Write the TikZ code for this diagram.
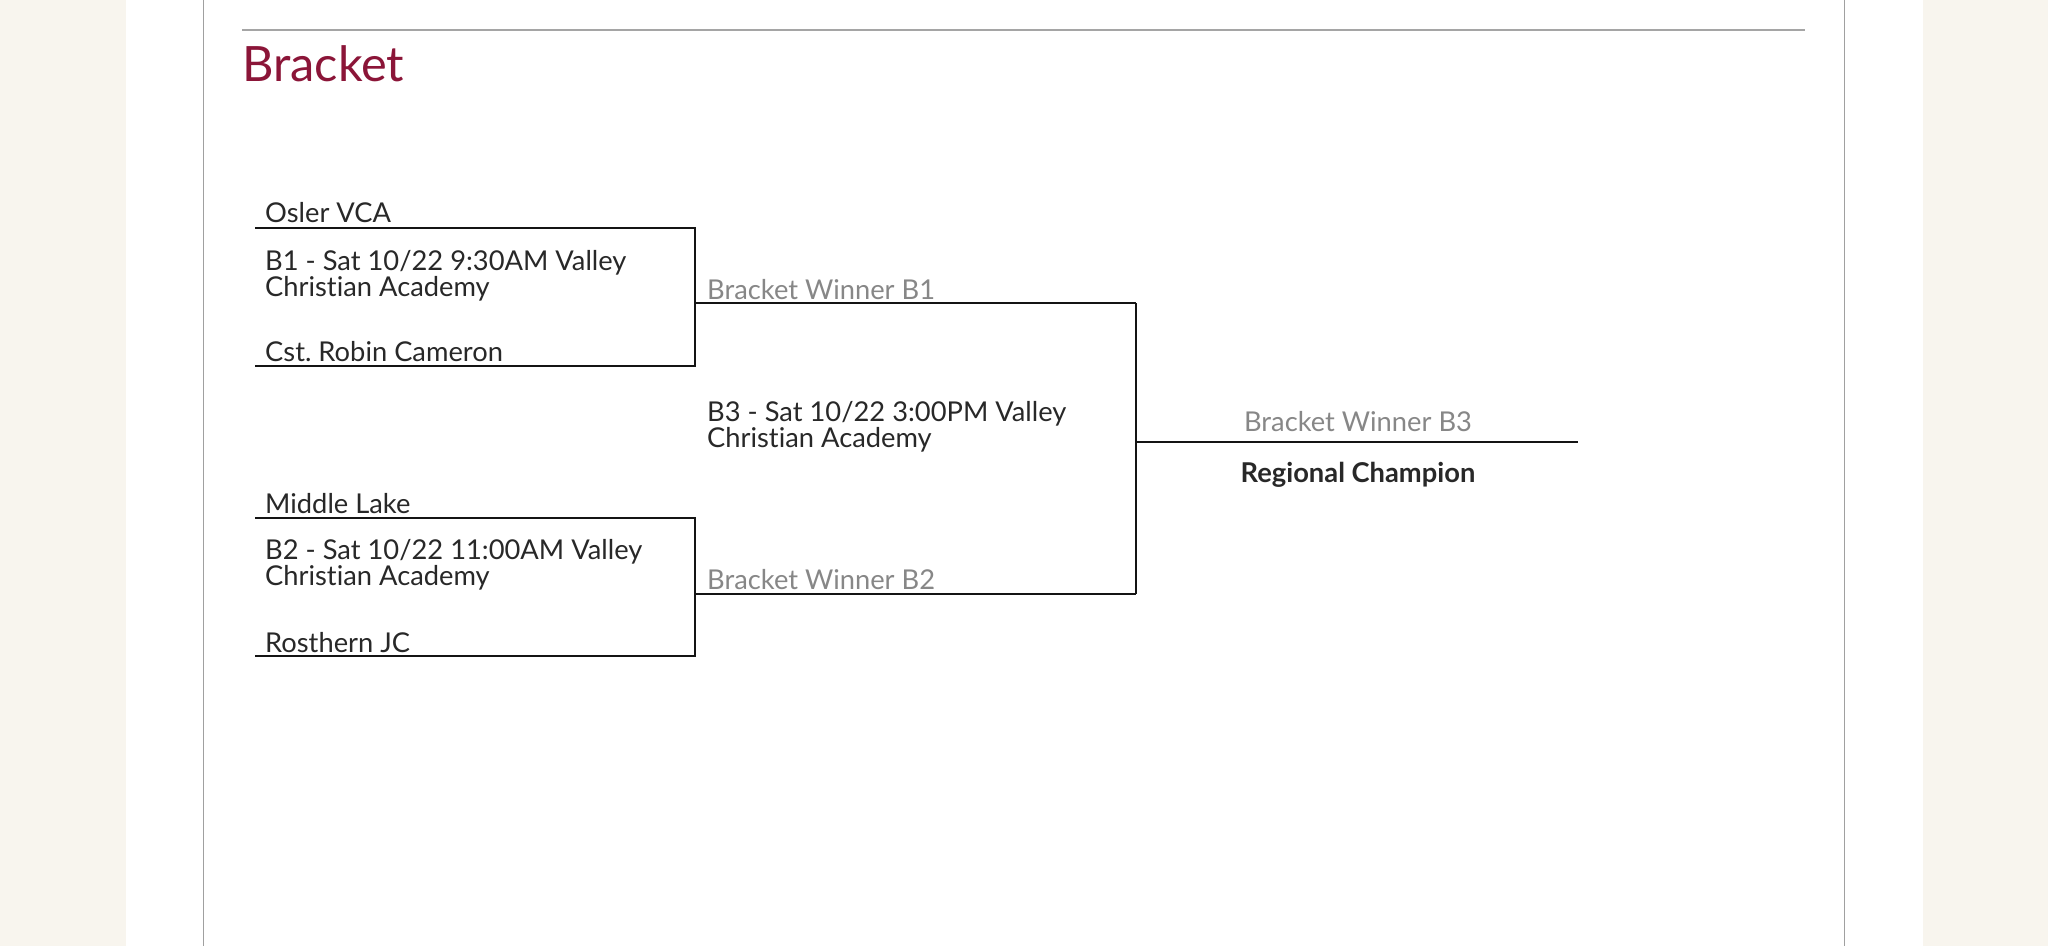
\documentclass[tikz,border=0pt]{standalone}
\usepackage{fontspec}
\setmainfont{Lato}[Ligatures=NoCommon]
\frenchspacing
\definecolor{cream}{RGB}{248,245,238}
\definecolor{pageborder}{RGB}{160,160,160}
\definecolor{rulegray}{RGB}{165,165,165}
\definecolor{maroon}{RGB}{139,21,56}
\definecolor{ink}{RGB}{40,40,40}
\definecolor{soft}{RGB}{135,135,135}
\tikzset{
  team/.style={anchor=base west, inner sep=0pt, text=ink, font=\fontsize{27.3}{27.3}\selectfont},
  game/.style={anchor=base west, inner sep=0pt, text=ink, align=left, font=\fontsize{27.3}{22.7}\selectfont},
  winner/.style={anchor=base west, inner sep=0pt, text=soft, font=\fontsize{27.3}{27.3}\selectfont},
  champ/.style={anchor=base, inner sep=0pt, text=ink, font=\fontsize{27.3}{27.3}\selectfont\bfseries},
  bline/.style={line width=2pt, draw=black!92},
}
\begin{document}
\begin{tikzpicture}[x=1pt,y=-1pt]
\path[use as bounding box, fill=cream] (0,0) rectangle (2048,946);
\fill[white] (126,0) rectangle (1923,946);
\draw[pageborder, line width=1.6pt] (203.5,0) -- (203.5,946);
\draw[pageborder, line width=1.6pt] (1844.5,0) -- (1844.5,946);
\draw[rulegray, line width=2.4pt] (242,30) -- (1805,30);
\node[anchor=base west, inner sep=0pt, text=maroon, font=\fontsize{48.7}{48.7}\selectfont] (title) at (242,81.7) {Bracket};

% coordinates of the bracket
\coordinate (a1) at (255,227.5);
\coordinate (a2) at (695,227.5);
\coordinate (a3) at (695,366);
\coordinate (a4) at (255,366);
\coordinate (w1s) at (695,303);
\coordinate (w1e) at (1136,303);
\coordinate (c1) at (255,517.5);
\coordinate (c2) at (695,517.5);
\coordinate (c3) at (695,656);
\coordinate (c4) at (255,656);
\coordinate (w2s) at (695,594);
\coordinate (w2e) at (1136,594);
\coordinate (fs) at (1136,442);
\coordinate (fe) at (1578,442);

\draw[bline] (a1) -- (a2) -- (a3) -- (a4);
\draw[bline] (w1s) -- (w1e);
\draw[bline] (c1) -- (c2) -- (c3) -- (c4);
\draw[bline] (w2s) -- (w2e);
\draw[bline] (w1e) -- (w2e);
\draw[bline] (fs) -- (fe);

\node[team] (osler) at (265,222.5) {Osler VCA};
\node[game] (g1) at (265,296) {B1 - Sat 10/22 9:30AM Valley\\Christian Academy};
\node[team] (robin) at (265,361.7) {Cst. Robin Cameron};
\node[team] (middle) at (265,513) {Middle Lake};
\node[game] (g2) at (265,585.7) {B2 - Sat 10/22 11:00AM Valley\\Christian Academy};
\node[team] (rosthern) at (265,652) {Rosthern JC};
\node[winner] (wb1) at (707,299.3) {Bracket Winner B1};
\node[winner] (wb2) at (707,589) {Bracket Winner B2};
\node[game] (g3) at (707,447) {B3 - Sat 10/22 3:00PM Valley\\Christian Academy};
\node[winner, anchor=base] (wb3) at (1358,431) {Bracket Winner B3};
\node[champ] (champ) at (1358,482.5) {Regional Champion};
\end{tikzpicture}
\end{document}
